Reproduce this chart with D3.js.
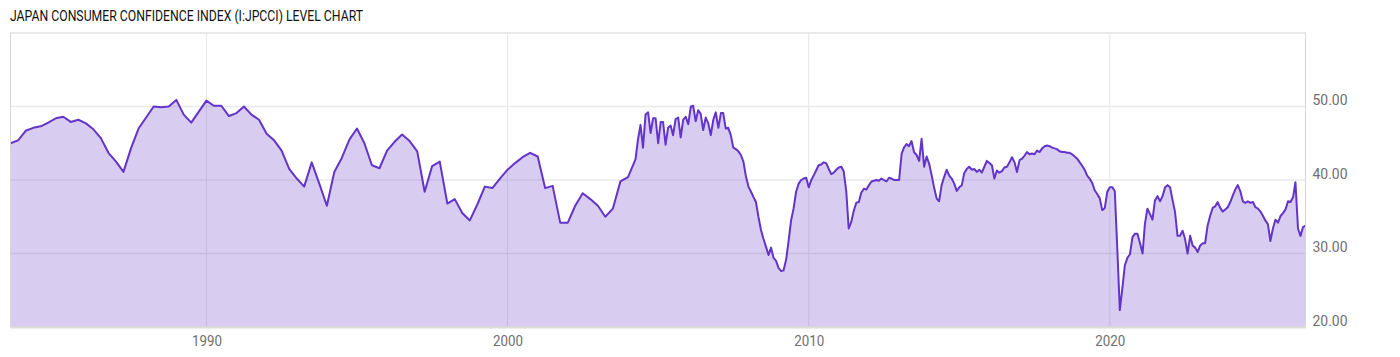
<!DOCTYPE html>
<html>
<head>
<meta charset="utf-8">
<script src="https://cdn.jsdelivr.net/npm/d3@7"></script>
<style>
  body { margin: 0; background: #fff; }
  text { font-family: Roboto, "Noto Sans", sans-serif; }
</style>
</head>
<body>
<div id="chart"></div>
<script>
// quarterly survey, Jul 1983 .. Jan 2004
const quarterlyStart = new Date(1983, 6, 1)
const quarterlyValues = [
  45.0, 45.4, 46.7, 47.1, 47.3, 47.8, 48.4, 48.6, 47.9, 48.2,
  47.7, 46.9, 45.7, 43.7, 42.5, 41.1, 44.3, 47.0, 48.5, 50.0,
  49.9, 50.0, 50.9, 48.9, 47.8, 49.3, 50.8, 50.1, 50.1, 48.7,
  49.1, 50.0, 48.9, 48.2, 46.3, 45.4, 44.0, 41.5, 40.2, 39.1,
  42.4, 39.5, 36.5, 41.1, 43.0, 45.5, 47.0, 45.0, 42.0, 41.6,
  44.0, 45.2, 46.2, 45.3, 43.9, 38.4, 41.9, 42.5, 36.8, 37.4,
  35.5, 34.5, 36.7, 39.1, 38.9, 40.2, 41.4, 42.3, 43.1, 43.7,
  43.2, 38.9, 39.2, 34.2, 34.2, 36.5, 38.2, 37.4, 36.5, 35.0,
  36.1, 39.8, 40.4
]

// monthly survey, Apr 2004 .. Jul 2026
const monthlyStart = new Date(2004, 3, 1)
const monthlyValues = [
  42.8, 45.5, 47.5, 44.4, 48.9, 49.2, 46.4, 48.4, 48.4, 45.0,
  47.9, 47.9, 44.8, 47.1, 47.4, 46.1, 48.3, 48.5, 45.8, 48.2,
  48.6, 47.6, 50.0, 50.1, 48.0, 49.5, 49.0, 46.8, 48.5, 47.7,
  46.1, 48.2, 49.2, 47.1, 49.1, 49.1, 47.0, 47.1, 46.1, 44.4,
  44.2, 43.9, 43.4, 42.5, 40.5, 39.1, 38.4, 37.7, 37.0, 35.0,
  33.2, 32.0, 30.9, 29.8, 30.8, 29.4, 29.0, 28.0, 27.6, 27.7,
  29.1, 31.6, 34.5, 36.1, 38.4, 39.5, 40.0, 40.2, 40.3, 39.0,
  40.0, 40.6, 41.3, 42.0, 42.1, 42.4, 42.3, 41.5, 40.8, 41.0,
  41.4, 41.7, 41.8, 41.2, 38.5, 33.4, 34.3, 35.8, 36.9, 37.0,
  38.3, 38.8, 38.7, 39.3, 39.8, 39.9, 40.0, 39.9, 40.2, 40.0,
  39.8, 40.3, 40.2, 40.0, 40.0, 40.0, 43.6, 44.4, 44.9, 44.6,
  45.3, 43.8, 43.4, 42.6, 45.6, 41.8, 43.2, 42.2, 40.6, 39.0,
  37.5, 37.1, 39.3, 40.4, 41.4, 40.6, 40.2, 39.5, 38.5, 39.0,
  39.3, 40.9, 41.5, 41.8, 41.4, 41.5, 41.1, 41.4, 41.0, 41.8,
  42.6, 42.3, 42.0, 40.2, 41.3, 41.0, 41.2, 41.7, 41.8, 42.4,
  43.1, 42.4, 41.1, 42.7, 42.9, 43.3, 43.8, 43.5, 43.6, 43.5,
  44.0, 43.8, 44.3, 44.6, 44.7, 44.6, 44.4, 44.3, 44.2, 43.9,
  43.8, 43.8, 43.7, 43.7, 43.5, 43.2, 42.9, 42.4, 41.9, 41.4,
  40.6, 40.2, 39.6, 38.6, 38.1, 37.5, 35.9, 36.2, 38.4, 39.0,
  39.0, 38.5, 30.5, 22.3, 25.3, 28.4, 29.4, 29.9, 32.2, 32.7,
  32.7, 31.4, 30.0, 34.0, 36.1, 35.4, 34.6, 37.2, 37.8, 37.1,
  37.8, 39.0, 39.3, 39.0, 37.2, 35.7, 32.4, 32.4, 33.1, 32.0,
  30.0, 32.4, 31.1, 30.8, 30.2, 31.1, 31.4, 31.4, 33.8, 35.1,
  36.2, 36.4, 37.0, 36.2, 35.7, 36.0, 36.3, 37.0, 37.9, 38.7,
  39.3, 38.5, 37.1, 36.9, 37.1, 36.9, 37.0, 36.3, 36.1, 35.7,
  35.1, 34.5, 34.0, 31.7, 33.4, 34.6, 34.2, 35.1, 35.5, 36.0,
  37.1, 37.0, 37.7, 39.7, 33.4, 32.4, 33.6, 33.8
]

const yTicks = [20, 30, 40, 50]
const xTicks = [1990, 2000, 2010, 2020]
const title = "JAPAN CONSUMER CONFIDENCE INDEX (I:JPCCI) LEVEL CHART"

const data = quarterlyValues.map((v, i) => ({date: d3.timeMonth.offset(quarterlyStart, 3 * i), value: v}))
  .concat(monthlyValues.map((v, i) => ({date: d3.timeMonth.offset(monthlyStart, i), value: v})))

const W = 1400, H = 357
const plotLeft = 10.5, plotRight = 1305.5, plotTop = 33, plotBottom = 327
const lineColor = "#6234c9"

const svg = d3.select("#chart").append("svg")
  .attr("width", W)
  .attr("height", H)

// title, squeezed to mimic the condensed face
svg.append("text")
  .attr("x", 10)
  .attr("y", 21)
  .attr("font-size", 14.5)
  .attr("fill", "#111")
  .attr("textLength", 353)
  .attr("lengthAdjust", "spacingAndGlyphs")
  .text(title)

const x = d3.scaleTime()
  .domain([data[0].date, data[data.length - 1].date])
  .range([plotLeft, plotRight])

const y = d3.scaleLinear()
  .domain([20, 60])
  .range([plotBottom, plotTop])

// grid
svg.append("g")
  .selectAll("line")
  .data(yTicks.slice(1))
  .join("line")
    .attr("x1", plotLeft).attr("x2", plotRight)
    .attr("y1", d => y(d)).attr("y2", d => y(d))
    .attr("stroke", "#ebebeb")
    .attr("stroke-width", 1.5)

svg.append("g")
  .selectAll("line")
  .data(xTicks)
  .join("line")
    .attr("x1", d => x(new Date(d, 0, 1))).attr("x2", d => x(new Date(d, 0, 1)))
    .attr("y1", plotTop).attr("y2", plotBottom)
    .attr("stroke", "#e6e6e6")
    .attr("stroke-width", 1)

const area = d3.area()
  .x(d => x(d.date))
  .y0(y(20))
  .y1(d => y(d.value))

const line = d3.line()
  .x(d => x(d.date))
  .y(d => y(d.value))

svg.append("path")
  .datum(data)
  .attr("d", area)
  .attr("fill", lineColor)
  .attr("fill-opacity", 0.25)

svg.append("path")
  .datum(data)
  .attr("d", line)
  .attr("fill", "none")
  .attr("stroke", lineColor)
  .attr("stroke-width", 2)
  .attr("stroke-linejoin", "round")

// frame
svg.append("rect")
  .attr("x", plotLeft).attr("y", plotTop)
  .attr("width", plotRight - plotLeft).attr("height", plotBottom - plotTop)
  .attr("fill", "none")
  .attr("stroke", "#d6d6d6")
  .attr("stroke-width", 1)

svg.append("line")
  .attr("x1", plotLeft).attr("x2", plotRight)
  .attr("y1", plotBottom + 0.5).attr("y2", plotBottom + 0.5)
  .attr("stroke", "#dcdcdc")
  .attr("stroke-width", 2)

// y axis on the right
const yAxis = svg.append("g")
  .attr("transform", "translate(" + plotRight + ",0)")
  .call(d3.axisRight(y).tickValues(yTicks).tickSize(0).tickPadding(7).tickFormat(d3.format(".2f")))
yAxis.select(".domain").remove()
yAxis.selectAll("text")
  .attr("font-size", 15)
  .attr("fill", "#6f6f6f")
  .attr("dy", "-0.12em")
  .attr("textLength", 35)
  .attr("lengthAdjust", "spacingAndGlyphs")

// x axis
const xAxis = svg.append("g")
  .attr("transform", "translate(0," + plotBottom + ")")
  .call(d3.axisBottom(x).tickValues(xTicks.map(d => new Date(d, 0, 1))).tickSize(0).tickPadding(8).tickFormat(d3.timeFormat("%Y")))
xAxis.select(".domain").remove()
xAxis.selectAll("text")
  .attr("font-size", 15)
  .attr("fill", "#6f6f6f")
  .attr("textLength", 30)
  .attr("lengthAdjust", "spacingAndGlyphs")
</script>
</body>
</html>
